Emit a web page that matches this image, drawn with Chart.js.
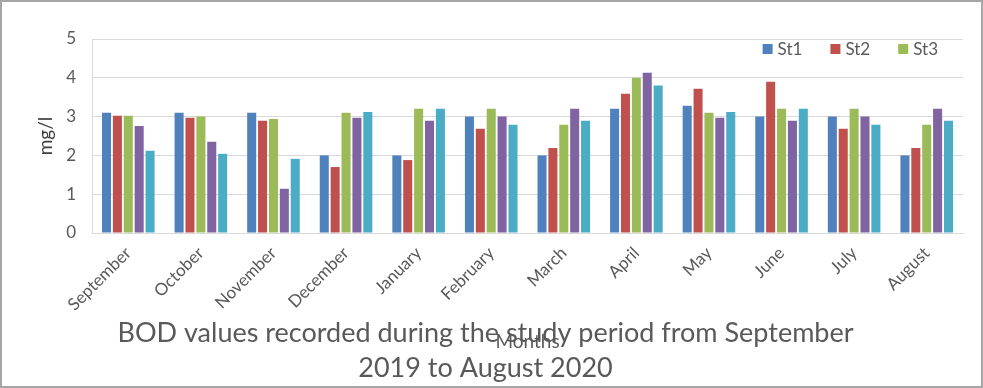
<!DOCTYPE html>
<html>
<head>
<meta charset="utf-8">
<script src="https://cdn.jsdelivr.net/npm/chart.js@4/dist/chart.umd.min.js"></script>
<style>
  html, body { margin: 0; padding: 0; background: #fff; }
  #wrap {
    position: relative;
    width: 983px;
    height: 388px;
    box-sizing: border-box;
    border: 2px solid #a6a6a6;
  }
</style>
</head>
<body>
<div id="wrap"><canvas id="bod-chart"></canvas></div>
<script>
// Data
const months = ['September', 'October', 'November', 'December', 'January', 'February',
                'March', 'April', 'May', 'June', 'July', 'August'];
const st1 = [3.1, 3.1, 3.1, 2.0, 2.0, 3.0, 2.0, 3.2, 3.28, 3.0, 3.0, 2.0];
const st2 = [3.02, 2.97, 2.89, 1.7, 1.88, 2.69, 2.19, 3.59, 3.72, 3.9, 2.69, 2.19];
const st3 = [3.02, 3.0, 2.94, 3.1, 3.2, 3.2, 2.79, 4.0, 3.1, 3.2, 3.2, 2.79];
const st4 = [2.76, 2.35, 1.14, 2.97, 2.89, 3.0, 3.2, 4.13, 2.97, 2.89, 3.0, 3.2];
const st5 = [2.12, 2.04, 1.91, 3.12, 3.2, 2.79, 2.89, 3.8, 3.12, 3.2, 2.79, 2.89];
const titleLines = ['BOD values recorded during the study period from September',
                    '2019 to August 2020'];

const COLORS = {
  blue: '#4f81bd',
  red: '#c0504d',
  green: '#9bbb59',
  purple: '#8064a2',
  cyan: '#4bacc6'
};
const TEXT = '#595959';
const GRID = '#d9d9d9';
const FONT = 'Lato, "Open Sans", sans-serif';

function series(label, data, color) {
  return {
    label: label,
    data: data,
    backgroundColor: color,
    borderWidth: 0,
    barPercentage: 0.83,
    categoryPercentage: 0.75
  };
}

// Excel-style title drawn over the axis title, as in the picture
const overlayTitle = {
  id: 'overlayTitle',
  afterDraw(chart) {
    const ctx = chart.ctx;
    ctx.save();
    ctx.fillStyle = TEXT;
    ctx.font = '27px ' + FONT;
    ctx.textAlign = 'center';
    ctx.textBaseline = 'alphabetic';
    ctx.fillText(titleLines[0], 483.5, 339.5);
    ctx.fillText(titleLines[1], 483.5, 374.5);
    ctx.restore();
  }
};

// Legend sits inside the plot, top right, and only lists the first three series
const insideLegend = {
  id: 'insideLegend',
  afterDatasetsDraw(chart) {
    const ctx = chart.ctx;
    const items = chart.data.datasets.slice(0, 3);
    ctx.save();
    ctx.font = '17px ' + FONT;
    ctx.textBaseline = 'middle';
    const widths = items.map(d => ctx.measureText(d.label).width);
    const total = widths.reduce((a, w) => a + 15 + w, 0) + 28 * (items.length - 1);
    let x = chart.chartArea.right - 25 - total;
    const y = chart.chartArea.top + 10;
    items.forEach((d, i) => {
      ctx.fillStyle = d.backgroundColor;
      ctx.fillRect(x, y - 5, 10, 10);
      ctx.fillStyle = TEXT;
      ctx.fillText(d.label, x + 15, y + 1);
      x += 15 + widths[i] + 28;
    });
    ctx.restore();
  }
};

new Chart(document.getElementById('bod-chart'), {
  type: 'bar',
  data: {
    labels: months,
    datasets: [
      series('St1', st1, COLORS.blue),
      series('St2', st2, COLORS.red),
      series('St3', st3, COLORS.green),
      series('St4', st4, COLORS.purple),
      series('St5', st5, COLORS.cyan)
    ]
  },
  options: {
    responsive: true,
    maintainAspectRatio: false,
    animation: false,
    layout: {
      padding: { top: 37, right: 18, left: 0, bottom: 0 }
    },
    plugins: {
      legend: { display: false },
      title: { display: false },
      tooltip: { enabled: false }
    },
    scales: {
      x: {
        afterFit: s => { s.height = 153; },
        grid: { display: false },
        border: { display: true, color: GRID },
        ticks: {
          color: TEXT,
          font: { family: FONT, size: 17 },
          maxRotation: 45,
          minRotation: 45,
          padding: 2
        },
        title: {
          display: true,
          text: 'Months',
          color: TEXT,
          font: { family: FONT, size: 19 },
          padding: { top: 0, bottom: 33 }
        }
      },
      y: {
        min: 0,
        max: 5,
        afterFit: s => { s.width = 90; },
        grid: { color: GRID, drawTicks: false },
        border: { display: true, color: GRID },
        ticks: {
          stepSize: 1,
          color: TEXT,
          font: { family: FONT, size: 17 },
          padding: 16
        },
        title: {
          display: true,
          text: 'mg/l',
          color: '#404040',
          font: { family: FONT, size: 19 },
          padding: { top: 32, bottom: 0 }
        }
      }
    }
  },
  plugins: [overlayTitle, insideLegend]
});
</script>
</body>
</html>
